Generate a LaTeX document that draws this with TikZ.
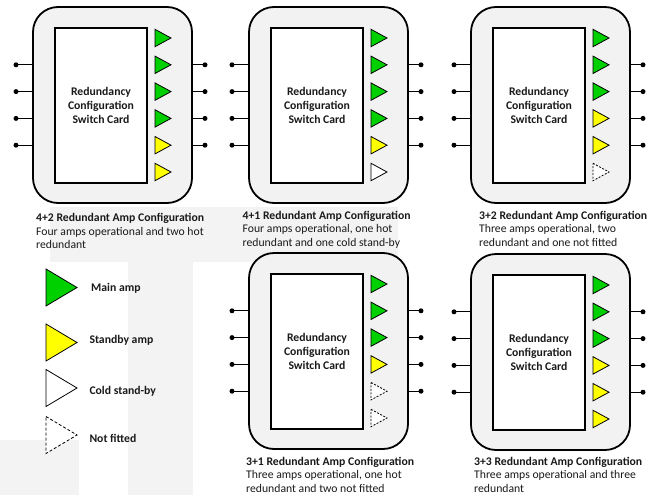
\documentclass[tikz,border=0pt]{standalone}
\usepackage{fontspec}
\setmainfont{Carlito}
\definecolor{boxgray}{HTML}{F2F2F2}
\definecolor{wmgray}{HTML}{F3F3F3}
\definecolor{ampgreen}{HTML}{00D000}
\definecolor{ampyellow}{HTML}{FFFF00}
\definecolor{txt}{HTML}{1A1A1A}
\tikzset{
 outerbox/.style={draw=black, line width=1.8pt, fill=boxgray, rounded corners=25pt, minimum width=159pt, minimum height=196pt, inner sep=0pt},
 cardbox/.style={draw=black, line width=1.8pt, fill=white, minimum width=92pt, minimum height=155pt, inner sep=0pt, align=center, text=txt, font=\bfseries\fontsize{11.7}{14}\selectfont},
 ampshape/.style={draw=black, line width=0.8pt, line join=miter},
 ampmain/.style={ampshape, fill=ampgreen},
 ampstandby/.style={ampshape, fill=ampyellow},
 ampcold/.style={ampshape, fill=white},
 ampnone/.style={ampshape, fill=white, dash pattern=on 2pt off 1.5pt},
 wire/.style={line width=1.2pt},
 dotend/.style={circle, fill=black, inner sep=0pt, minimum size=5pt},
 captitle/.style={anchor=base west, inner sep=0pt, font=\bfseries\fontsize{11.7}{13.6}\selectfont, text=txt},
 captext/.style={anchor=base west, inner sep=0pt, font=\fontsize{11.7}{13.6}\selectfont, text=txt},
 legendlabel/.style={anchor=base west, inner sep=0pt, font=\bfseries\fontsize{11.7}{13.6}\selectfont, text=txt},
}
\newcommand{\amptri}[3]{\draw[#1] (#2,#3-8.7) -- (#2+16,#3) -- (#2,#3+8.7) -- cycle;}
\newcommand{\legtri}[2]{\draw[#1] (46,#2-18.5) -- (77,#2) -- (46,#2+18.5) -- cycle;}
\newcommand{\ampmodule}[9]{%
 \begin{scope}[shift={(#2,#3)}]
  \node[outerbox] (#1-box) at (79.5,98) {};
  \node[cardbox] (#1-card) at (68,98.5) {Redundancy\\Configuration\\Switch Card};
  \amptri{#4}{122}{31}
  \amptri{#5}{122}{57.8}
  \amptri{#6}{122}{84.6}
  \amptri{#7}{122}{111.4}
  \amptri{#8}{122}{138.2}
  \amptri{#9}{122}{165}
  \foreach \yy [count=\k] in {57.8,84.6,111.4,138.2} {
    \node[dotend] (#1-l\k) at (-17,\yy) {};
    \node[dotend] (#1-r\k) at (172,\yy) {};
    \draw[wire] (#1-l\k.center) -- (#1-box.west |- #1-l\k);
    \draw[wire] (#1-box.east |- #1-r\k) -- (#1-r\k.center);
  }
 \end{scope}}
\newcommand{\capblock}[6]{%
 \node[captitle] (#1-t) at (#2,#3) {#4};
 \node[captext] (#1-a) at (#2,#3+13.6) {#5};
 \node[captext] (#1-b) at (#2,#3+27.2) {#6};}
\begin{document}
\begin{tikzpicture}[x=1pt,y=-1pt]
\useasboundingbox (0,0) rectangle (652,495);
\fill[white] (0,0) rectangle (652,495);
% faint watermark
\fill[wmgray] (50,207) rectangle (398,262);
\fill[wmgray] (128,262) rectangle (193,495);
\fill[wmgray] (0,440) rectangle (79,495);
% modules
\ampmodule{m1}{33}{7}{ampmain}{ampmain}{ampmain}{ampmain}{ampstandby}{ampstandby}
\ampmodule{m2}{249}{7}{ampmain}{ampmain}{ampmain}{ampmain}{ampstandby}{ampcold}
\ampmodule{m3}{471}{7}{ampmain}{ampmain}{ampmain}{ampstandby}{ampstandby}{ampnone}
\ampmodule{m4}{249}{253}{ampmain}{ampmain}{ampmain}{ampstandby}{ampnone}{ampnone}
\ampmodule{m5}{471}{254}{ampmain}{ampmain}{ampmain}{ampstandby}{ampstandby}{ampstandby}
% captions
\capblock{c1}{36}{221.7}{4+2 Redundant Amp Configuration}{Four amps operational and two hot}{redundant}
\capblock{c2}{242.5}{219.3}{4+1 Redundant Amp Configuration}{Four amps operational, one hot}{redundant and one cold stand-by}
\capblock{c3}{479}{219.3}{3+2 Redundant Amp Configuration}{Three amps operational, two}{redundant and one not fitted}
\capblock{c4}{246}{465}{3+1 Redundant Amp Configuration}{Three amps operational, one hot}{redundant and two not fitted}
\capblock{c5}{474}{465.3}{3+3 Redundant Amp Configuration}{Three amps operational and three}{redundant}
% legend
\legtri{ampmain}{287.5}
\legtri{ampstandby}{342.5}
\legtri{ampcold}{388}
\legtri{ampnone, dash pattern=on 3pt off 2pt}{435}
\node[legendlabel] (lg-main) at (91,291.7) {Main amp};
\node[legendlabel] (lg-standby) at (89.3,343) {Standby amp};
\node[legendlabel] (lg-cold) at (89.3,394) {Cold stand-by};
\node[legendlabel] (lg-none) at (89.3,442) {Not fitted};
\end{tikzpicture}
\end{document}
